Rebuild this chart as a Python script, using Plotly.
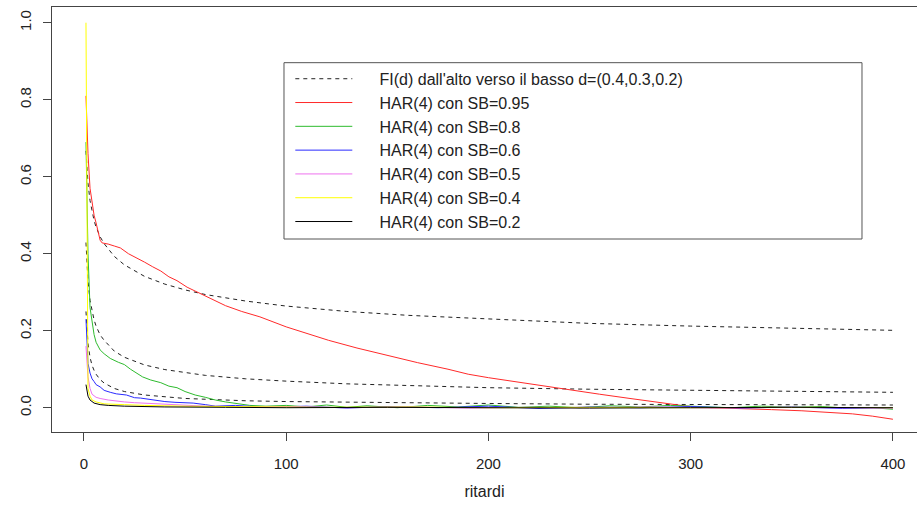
import plotly.graph_objects as go

# ---------------- data ----------------
# FI(d) autocorrelations, d = 0.4, 0.3, 0.2 (dashed black)
FI_LAGS = [1, 2, 3, 4, 5, 6, 8, 10, 15, 20, 30, 40, 50, 60, 80, 100, 130, 160, 200, 250, 300, 350, 400]
FI_04 = [0.667, 0.583, 0.538, 0.508, 0.486, 0.469, 0.444, 0.426, 0.393, 0.371, 0.341, 0.321, 0.306, 0.294,
         0.277, 0.264, 0.250, 0.240, 0.230, 0.219, 0.212, 0.206, 0.201]
FI_03 = [0.429, 0.328, 0.279, 0.249, 0.228, 0.212, 0.189, 0.175, 0.147, 0.131, 0.111, 0.099, 0.091, 0.084,
         0.075, 0.069, 0.062, 0.057, 0.052, 0.048, 0.045, 0.042, 0.040]
FI_02 = [0.250, 0.167, 0.131, 0.110, 0.097, 0.087, 0.073, 0.064, 0.050, 0.042, 0.033, 0.028, 0.024, 0.022,
         0.018, 0.016, 0.014, 0.012, 0.011, 0.009, 0.008, 0.0075, 0.007]

# HAR(4) SB=0.95 (red)
RED_LAGS = [1, 2, 3, 4, 5, 6, 7, 8, 9, 12, 15, 18, 22, 26, 30, 34, 38, 42, 46, 51, 56, 62, 70, 78, 87, 100,
            110, 121, 135, 150, 165, 180, 190, 200, 215, 225, 239, 255, 270, 285, 298, 310, 325, 340, 355,
            370, 380, 390, 400]
RED = [0.81, 0.66, 0.57, 0.53, 0.50, 0.48, 0.455, 0.435, 0.428, 0.425, 0.42, 0.415, 0.40, 0.39, 0.378, 0.366,
       0.355, 0.34, 0.33, 0.313, 0.30, 0.285, 0.265, 0.25, 0.236, 0.21, 0.193, 0.175, 0.155, 0.135, 0.117,
       0.10, 0.087, 0.078, 0.066, 0.058, 0.046, 0.035, 0.024, 0.013, 0.004, 0.0, -0.002, -0.005, -0.008,
       -0.012, -0.016, -0.022, -0.03]

# HAR(4) SB=0.8 (green)
GREEN_LAGS = [1, 2, 3, 4, 5, 6, 7, 8, 10, 13, 17, 20, 23, 26, 29, 33, 38, 42, 46, 50, 55, 60, 65, 70, 76, 82,
              90, 100, 110, 120, 130, 140, 155, 170, 185, 200, 215, 230, 245, 260, 275, 290, 305, 320, 335,
              350, 365, 380, 390, 400]
GREEN = [0.69, 0.40, 0.26, 0.22, 0.19, 0.17, 0.158, 0.15, 0.14, 0.128, 0.118, 0.112, 0.10, 0.09, 0.08, 0.072,
         0.065, 0.056, 0.052, 0.042, 0.033, 0.027, 0.02, 0.015, 0.01, 0.006, 0.004, 0.006, 0.002, 0.007,
         0.001, 0.005, 0.0, 0.006, 0.002, 0.007, 0.001, 0.004, 0.0, 0.005, 0.002, 0.006, 0.003, 0.0, 0.004,
         0.001, 0.003, -0.002, 0.0, -0.004]

# HAR(4) SB=0.6 (blue)
BLUE_LAGS = [1, 2, 3, 4, 5, 6, 8, 10, 13, 16, 21, 25, 28, 34, 40, 45, 54, 60, 65, 75, 90, 110, 130, 150, 175,
             200, 225, 250, 275, 300, 325, 350, 375, 400]
BLUE = [0.23, 0.115, 0.09, 0.075, 0.068, 0.06, 0.054, 0.045, 0.04, 0.036, 0.033, 0.026, 0.025, 0.02, 0.016,
        0.014, 0.012, 0.008, 0.004, 0.006, 0.001, 0.004, -0.001, 0.003, 0.0, 0.004, -0.002, 0.002, 0.0, 0.003,
        -0.001, 0.002, -0.002, 0.0]

# HAR(4) SB=0.5 (violet)
VIOLET_LAGS = [1, 2, 3, 4, 6, 8, 12, 16, 20, 25, 30, 40, 50, 60, 80, 100, 130, 160, 190, 220, 250, 280, 310,
               340, 370, 400]
VIOLET = [0.16, 0.08, 0.05, 0.035, 0.027, 0.024, 0.02, 0.017, 0.015, 0.013, 0.012, 0.009, 0.006, 0.004, 0.002,
          0.003, 0.0, 0.002, -0.001, 0.001, 0.0, 0.002, -0.001, 0.001, 0.0, -0.001]

# HAR(4) SB=0.4 (yellow)
YELLOW_LAGS = [1, 2, 3, 4, 6, 10, 20, 30, 50, 80, 120, 160, 200, 250, 300, 350, 400]
YELLOW = [1.0, 0.05, 0.03, 0.02, 0.015, 0.01, 0.008, 0.006, 0.004, 0.002, 0.001, 0.002, 0.0, 0.001, 0.0,
          0.001, 0.0]

# HAR(4) SB=0.2 (black)
BLACK_LAGS = [1, 2, 3, 5, 8, 12, 20, 40, 70, 100, 150, 200, 250, 300, 350, 400]
BLACK = [0.06, 0.03, 0.02, 0.012, 0.008, 0.006, 0.004, 0.002, 0.001, 0.0, 0.001, 0.0, -0.001, 0.0, 0.001, 0.0]

X_TICKS = [0, 100, 200, 300, 400]
Y_TICKS = [0.0, 0.2, 0.4, 0.6, 0.8, 1.0]
Y_TICK_TEXT = ["0.0", "0.2", "0.4", "0.6", "0.8", "1.0"]

LEGEND_FI = "FI(d) dall'alto verso il basso d=(0.4,0.3,0.2)"
SERIES_NAMES = ["HAR(4) con SB=0.95", "HAR(4) con SB=0.8", "HAR(4) con SB=0.6",
                "HAR(4) con SB=0.5", "HAR(4) con SB=0.4", "HAR(4) con SB=0.2"]

# ---------------- figure ----------------
FONT = "Liberation Sans, Arial, sans-serif"
PAD = "\u00a0" * 5   # gap between legend key and its text, as in the original legend

fig = go.Figure()

for i, ys in enumerate([FI_04, FI_03, FI_02]):
    fig.add_trace(go.Scatter(
        x=FI_LAGS, y=ys, mode="lines", name=PAD + LEGEND_FI, showlegend=(i == 0),
        line=dict(color="#222222", width=1, dash="4px,4px")))

har = [(RED_LAGS, RED, "#FF2A2A"), (GREEN_LAGS, GREEN, "#2EBB2E"), (BLUE_LAGS, BLUE, "#2A2AFF"),
       (VIOLET_LAGS, VIOLET, "#EE72EE"), (YELLOW_LAGS, YELLOW, "#FFFF00"), (BLACK_LAGS, BLACK, "#000000")]
for (xs, ys, col), name in zip(har, SERIES_NAMES):
    fig.add_trace(go.Scatter(x=xs, y=ys, mode="lines", name=PAD + name,
                             line=dict(color=col, width=1)))

fig.update_layout(
    width=917, height=530,
    margin=dict(l=52, r=0, t=7, b=98),
    paper_bgcolor="white", plot_bgcolor="white",
    font=dict(family=FONT, size=15, color="#222222"),
    showlegend=True,
    legend=dict(x=0.2755, y=0.871, xanchor="left", yanchor="top",
                bgcolor="rgba(0,0,0,0)", borderwidth=0,
                font=dict(family=FONT, size=16, color="#222222"),
                itemwidth=57, tracegroupgap=0),
    shapes=[dict(type="rect", xref="paper", yref="paper",
                 x0=0.2682, x1=0.9364, y0=0.4541, y1=0.869,
                 line=dict(color="#555555", width=1))],
)

fig.update_xaxes(range=[-15.8, 411.9], tickvals=X_TICKS, ticks="outside", ticklen=8,
                 tickcolor="#444444", showline=True, linecolor="#444444", linewidth=1,
                 mirror=True, showgrid=False, zeroline=False,
                 tickfont=dict(size=15), ticklabelstandoff=10,
                 title=dict(text="ritardi", font=dict(size=16), standoff=14))
fig.update_yaxes(range=[-0.0631, 1.0408], tickvals=Y_TICKS, ticktext=Y_TICK_TEXT, ticks="outside",
                 ticklen=8, tickcolor="#444444", showline=True, linecolor="#444444", linewidth=1,
                 mirror=False, showgrid=False, zeroline=False, tickangle=-90,
                 tickfont=dict(size=15), ticklabelstandoff=6)

fig.write_html("out.html")
